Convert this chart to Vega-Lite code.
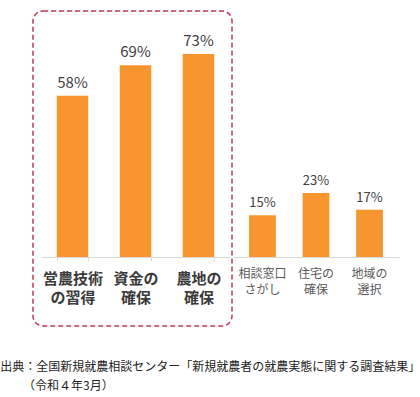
{
  "$schema": "https://vega.github.io/schema/vega-lite/v6.json",
  "padding": {"left": 0, "top": 10, "right": 0, "bottom": 0},
  "background": "white",
  "config": {"font": "Noto Sans CJK JP", "view": {"stroke": null}},
  "title": {
    "text": ["出典：全国新規就農相談センター「新規就農者の就農実態に関する調査結果」", "\u200b\u3000\u00a0\u00a0\u00a0\u00a0（令和４年3月）"],
    "orient": "bottom",
    "anchor": "start",
    "dx": -32,
    "offset": 35,
    "fontSize": 12,
    "fontWeight": "normal",
    "color": "#222222",
    "lineHeight": 19,
    "font": "Noto Sans CJK JP"
  },
  "spacing": 0,
  "hconcat": [
    {
      "width": 199,
      "height": 315,
      "view": {"stroke": "#c4384c", "strokeDash": [5, 3], "strokeWidth": 1.5, "cornerRadius": 10},
      "data": {"values": [
        {"item": "営農技術\nの習得", "pct": 58},
        {"item": "資金の\n確保", "pct": 69},
        {"item": "農地の\n確保", "pct": 73}
      ]},
      "encoding": {
        "x": {
          "field": "item", "type": "nominal", "sort": null,
          "scale": {"range": [8, 197], "paddingInner": 0.5, "paddingOuter": 0.25},
          "axis": {
            "title": null, "orient": "bottom", "offset": -69, "grid": false,
            "domainColor": "#d9d9d9", "domainWidth": 1,
            "ticks": true, "tickColor": "#d9d9d9", "tickSize": 4, "tickBand": "extent",
            "labelAngle": 0, "labelFontSize": 15, "labelFontWeight": "bold", "labelColor": "#3a3a3a",
            "labelPadding": 10, "labelLineHeight": 19,
            "labelExpr": "split(datum.label, '\\n')"
          }
        },
        "y": {
          "field": "pct", "type": "quantitative",
          "scale": {"domain": [-24.8, 88.5], "nice": false, "zero": false},
          "axis": null
        }
      },
      "layer": [
        {"mark": {"type": "bar", "color": "#F7962F"}},
        {"mark": {"type": "text", "dy": -5, "baseline": "bottom", "fontSize": 15, "color": "#404040", "text": {"expr": "datum.pct + '%'"}}}
      ]
    },
    {
      "width": 166,
      "height": 315,
      "data": {"values": [
        {"item": "相談窓口\nさがし", "pct": 15},
        {"item": "住宅の\n確保", "pct": 23},
        {"item": "地域の\n選択", "pct": 17}
      ]},
      "encoding": {
        "x": {
          "field": "item", "type": "nominal", "sort": null,
          "scale": {"paddingInner": 0.5, "paddingOuter": 0.3},
          "axis": {
            "title": null, "orient": "bottom", "offset": -69, "grid": false,
            "domainColor": "#d9d9d9", "domainWidth": 1,
            "ticks": false,
            "labelAngle": 0, "labelFontSize": 12, "labelFontWeight": "normal", "labelColor": "#595959",
            "labelPadding": 11, "labelLineHeight": 16,
            "labelExpr": "split(datum.label, '\\n')"
          }
        },
        "y": {
          "field": "pct", "type": "quantitative",
          "scale": {"domain": [-24.8, 88.5], "nice": false, "zero": false},
          "axis": null
        }
      },
      "layer": [
        {"mark": {"type": "bar", "color": "#F7962F"}},
        {"mark": {"type": "text", "dy": -5, "baseline": "bottom", "fontSize": 13, "color": "#404040", "text": {"expr": "datum.pct + '%'"}}}
      ]
    }
  ]
}
